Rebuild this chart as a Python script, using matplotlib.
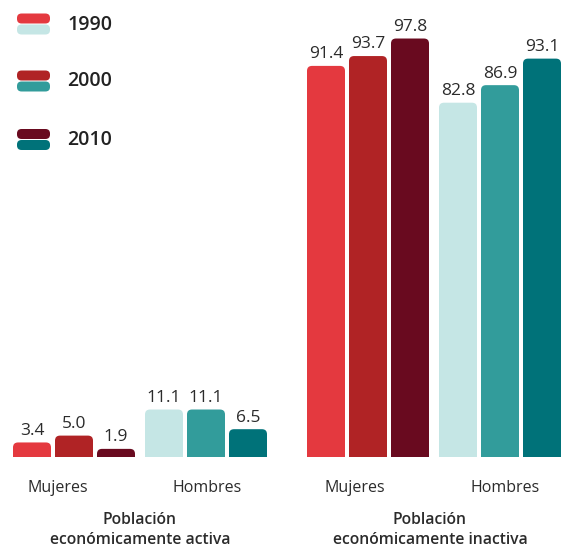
import matplotlib
matplotlib.use("Agg")
import matplotlib.pyplot as plt
from matplotlib.path import Path
from matplotlib.patches import PathPatch, FancyBboxPatch

plt.rcParams['font.family'] = ['Open Sans', 'DejaVu Sans']

# ---- data ----
years = ["1990", "2000", "2010"]
groups = ["Mujeres", "Hombres", "Mujeres", "Hombres"]
panels = ["Población\neconómicamente activa", "Población\neconómicamente inactiva"]
activa_mujeres = [3.4, 5.0, 1.9]
activa_hombres = [11.1, 11.1, 6.5]
inactiva_mujeres = [91.4, 93.7, 97.8]
inactiva_hombres = [82.8, 86.9, 93.1]
series = [activa_mujeres, activa_hombres, inactiva_mujeres, inactiva_hombres]

red_colors = ["#E4393F", "#B02325", "#690A1F"]
teal_colors = ["#C5E6E5", "#329C9B", "#007279"]
group_colors = [red_colors, teal_colors, red_colors, teal_colors]

# ---- layout ----
W, H = 561, 548
DPI = 100
fig = plt.figure(figsize=(W / DPI, H / DPI), dpi=DPI)
base_px = 457
ax = fig.add_axes([0, (H - base_px) / H, 1, base_px / H])
ymax = 106.8
ax.set_xlim(0, W)
ax.set_ylim(0, ymax)
ax.axis('off')

group_centers = [74, 206, 368, 500]
step = 42
bar_w = 38
px_per_y = base_px / ymax
r_px = 5

def rounded_top(x0, w, h, color):
    rx = r_px
    ry = r_px / px_per_y
    ry = min(ry, h)
    x1 = x0 + w
    verts = [(x0, 0), (x1, 0), (x1, h - ry), (x1, h), (x1 - rx, h),
             (x0 + rx, h), (x0, h), (x0, h - ry), (x0, 0)]
    codes = [Path.MOVETO, Path.LINETO, Path.LINETO, Path.CURVE3, Path.CURVE3,
             Path.LINETO, Path.CURVE3, Path.CURVE3, Path.CLOSEPOLY]
    ax.add_patch(PathPatch(Path(verts, codes), facecolor=color, edgecolor='none'))

for gi, vals in enumerate(series):
    xs = [group_centers[gi] + (i - 1) * step for i in range(len(vals))]
    bars = ax.bar(xs, vals, width=bar_w, color='none', edgecolor='none')
    for i, b in enumerate(bars):
        rounded_top(b.get_x(), b.get_width(), b.get_height(), group_colors[gi][i])
        ax.annotate(f"{vals[i]:.1f}", (b.get_x() + b.get_width() / 2, b.get_height()),
                    xytext=(0, 5.5), textcoords='offset points', ha='center', va='baseline',
                    fontsize=12.5, color='#2b2b2b')

# category labels
label_x = [58, 207, 355, 505]
for x, g in zip(label_x, groups):
    fig.text(x / W, 1 - 488 / H, g, ha='center', va='center', fontsize=11.5, color='#2b2b2b')

panel_x = [140, 430]
for x, p in zip(panel_x, panels):
    fig.text(x / W, 1 - 530 / H, p, ha='center', va='center', fontsize=11.3,
             fontweight='semibold', color='#2b2b2b', linespacing=1.35)

# legend
leg_y = [13.5, 70.5, 129]
for i, y in enumerate(years):
    top = leg_y[i]
    for j, col in enumerate([red_colors[i], teal_colors[i]]):
        t = top + j * 11
        p = FancyBboxPatch((17 / W, 1 - (t + 10) / H), 33 / W, 10 / H,
                           boxstyle=f"round,pad=0,rounding_size={4.5 / H}",
                           transform=fig.transFigure, facecolor=col, edgecolor='none',
                           mutation_aspect=1)
        fig.patches.append(p)
    fig.text(67 / W, 1 - (top + 11) / H, y, ha='left', va='center', fontsize=14,
             fontweight='semibold', color='#222222')

fig.savefig("out.png", dpi=DPI)
